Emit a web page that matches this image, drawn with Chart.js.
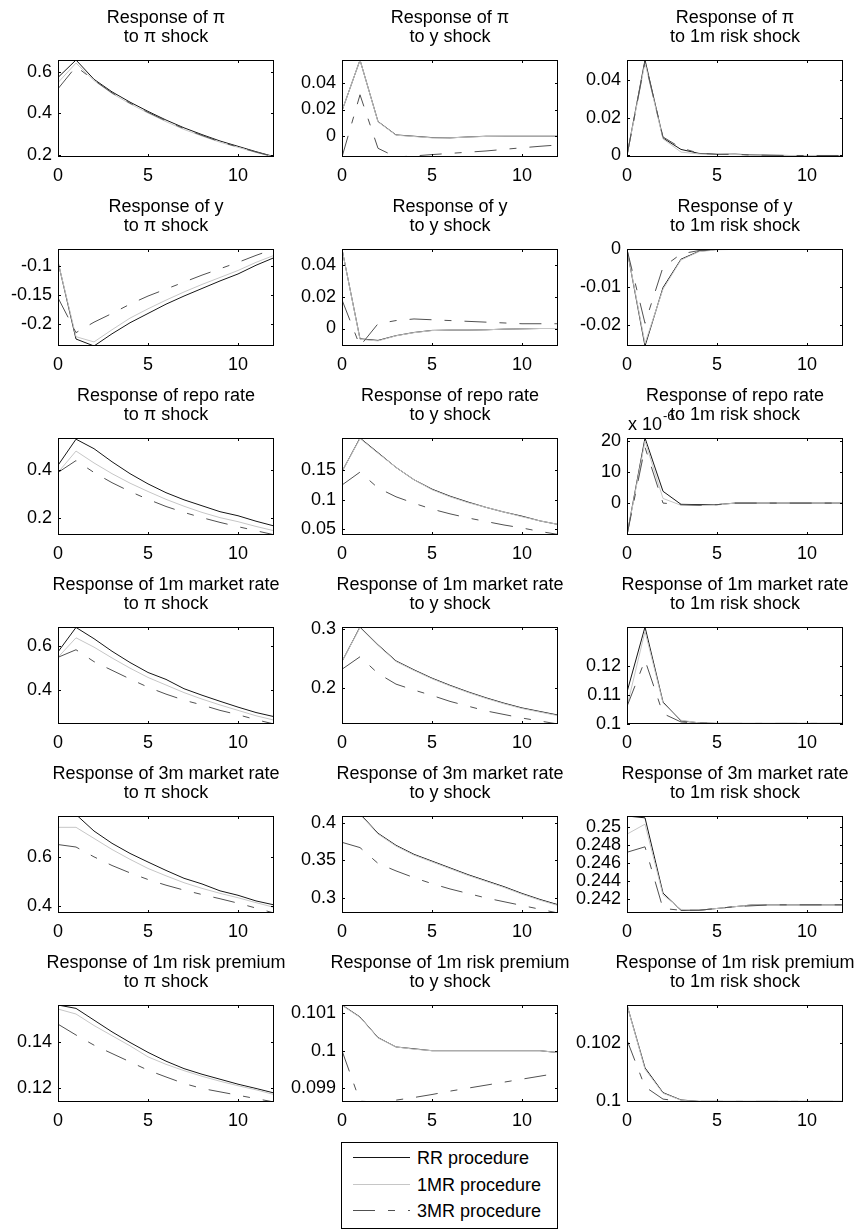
<!DOCTYPE html>
<html>
<head>
<meta charset="utf-8">
<script src="https://cdn.jsdelivr.net/npm/chart.js@4.4.0/dist/chart.umd.min.js"></script>
<style>
  html, body { margin: 0; padding: 0; background: #fff; overflow: hidden; }
  #figura { position: relative; width: 863px; height: 1229px; }
  #figura canvas { position: absolute; }
  #legenda { position: absolute; left: 341px; top: 1142px; }
</style>
</head>
<body>
<div id="figura"></div>
<script>
// horizonte das respostas (periodos)
const horizonte = [0, 1, 2, 3, 4, 5, 6, 7, 8, 9, 10, 11, 12];
const ticksX = [0, 5, 10];

const variaveis = ["π", "y", "repo rate", "1m market rate", "3m market rate", "1m risk premium"];
const choques = ["π shock", "y shock", "1m risk shock"];
const procedimentos = ["RR procedure", "1MR procedure", "3MR procedure"];

// ---- linha 1: resposta de pi
const piPi_RR  = [0.575, 0.66, 0.566, 0.505, 0.455, 0.41, 0.368, 0.33, 0.297, 0.266, 0.24, 0.214, 0.19];
const piPi_1MR = [0.55, 0.645, 0.56, 0.497, 0.447, 0.402, 0.36, 0.322, 0.29, 0.26, 0.235, 0.21, 0.188];
const piPi_3MR = [0.52, 0.628, 0.562, 0.5, 0.45, 0.405, 0.364, 0.326, 0.293, 0.262, 0.237, 0.212, 0.189];
const piPi_lim = [0.188, 0.66];
const piPi_ticks = [0.2, 0.4, 0.6];

const piY_RR  = [0.019, 0.057, 0.011, 0.001, 0, -0.001, -0.0012, -0.0005, 0, 0, 0, 0, 0];
const piY_1MR = [0.019, 0.057, 0.0108, 0.0008, -0.0002, -0.0012, -0.0012, -0.0006, -0.0001, 0, 0, 0, 0];
const piY_3MR = [-0.0155, 0.031, -0.009, -0.0155, -0.0147, -0.0137, -0.0128, -0.0119, -0.011, -0.0098, -0.0086, -0.0075, -0.0065];
const piY_lim = [-0.0155, 0.057];
const piY_ticks = [0, 0.02, 0.04];

const piR_RR  = [0, 0.0505, 0.0092, 0.0032, 0.0011, 0.0006, 0.0007, 0.0003, 0.0001, 0, 0, 0, 0];
const piR_1MR = [0, 0.049, 0.0088, 0.0018, 0.0008, 0.0005, 0.0005, 0.0002, 0.0001, 0, 0, 0, 0];
const piR_3MR = [0, 0.0495, 0.0098, 0.004, 0.0012, 0.0006, 0.0006, 0.0002, 0.0001, 0, 0, 0, 0];
const piR_lim = [-0.0008, 0.0505];
const piR_ticks = [0, 0.02, 0.04];

// ---- linha 2: resposta de y
const yPi_RR  = [-0.093, -0.226, -0.238, -0.217, -0.198, -0.182, -0.166, -0.152, -0.139, -0.126, -0.114, -0.099, -0.086];
const yPi_1MR = [-0.093, -0.222, -0.231, -0.21, -0.19, -0.174, -0.159, -0.145, -0.132, -0.12, -0.108, -0.094, -0.082];
const yPi_3MR = [-0.155, -0.215, -0.197, -0.182, -0.166, -0.152, -0.14, -0.128, -0.116, -0.105, -0.094, -0.082, -0.071];
const yPi_lim = [-0.238, -0.071];
const yPi_ticks = [-0.2, -0.15, -0.1];

const yY_RR  = [0.05, -0.0065, -0.0075, -0.0045, -0.0025, -0.0012, -0.001, -0.001, -0.0008, -0.0004, -0.0002, 0, 0];
const yY_1MR = [0.05, -0.0068, -0.0078, -0.0046, -0.0026, -0.0013, -0.001, -0.001, -0.0008, -0.0004, -0.0002, 0, 0];
const yY_3MR = [0.018, -0.011, 0.003, 0.005, 0.006, 0.0055, 0.005, 0.0045, 0.004, 0.0035, 0.003, 0.003, 0.003];
const yY_lim = [-0.011, 0.05];
const yY_ticks = [0, 0.02, 0.04];

const yR_RR  = [0, -0.0255, -0.0101, -0.0026, -0.0005, 0, 0, 0, 0, 0, 0, 0, 0];
const yR_1MR = [0, -0.0248, -0.0105, -0.0028, -0.0006, -0.0001, 0, 0, 0, 0, 0, 0, 0];
const yR_3MR = [0, -0.0195, -0.0047, -0.0012, -0.0003, 0, 0, 0, 0, 0, 0, 0, 0];
const yR_lim = [-0.0255, 0.0001];
const yR_ticks = [-0.02, -0.01, 0];

// ---- linha 3: resposta da repo rate
const repoPi_RR  = [0.42, 0.53, 0.49, 0.435, 0.385, 0.342, 0.305, 0.275, 0.25, 0.225, 0.208, 0.185, 0.165];
const repoPi_1MR = [0.39, 0.48, 0.43, 0.385, 0.345, 0.31, 0.277, 0.248, 0.222, 0.2, 0.183, 0.163, 0.145];
const repoPi_3MR = [0.39, 0.44, 0.39, 0.347, 0.31, 0.277, 0.247, 0.222, 0.2, 0.18, 0.162, 0.145, 0.128];
const repoPi_lim = [0.127, 0.535];
const repoPi_ticks = [0.2, 0.4];

const repoY_RR  = [0.148, 0.205, 0.18, 0.155, 0.134, 0.118, 0.106, 0.096, 0.087, 0.079, 0.072, 0.064, 0.058];
const repoY_1MR = [0.148, 0.204, 0.179, 0.155, 0.134, 0.117, 0.105, 0.095, 0.087, 0.079, 0.071, 0.064, 0.058];
const repoY_3MR = [0.125, 0.147, 0.12, 0.105, 0.094, 0.084, 0.076, 0.069, 0.063, 0.057, 0.052, 0.046, 0.041];
const repoY_lim = [0.04, 0.205];
const repoY_ticks = [0.05, 0.1, 0.15];

// valores em unidades de 10^-6
const repoR_RR  = [-10.3, 21, 3.8, -0.4, -0.5, -0.5, 0, 0, 0, 0, 0, 0, 0];
const repoR_1MR = [-10.3, 20, 1.5, -0.7, -0.8, -0.6, 0, 0, 0, 0, 0, 0, 0];
const repoR_3MR = [-10.3, 18, 0, -0.5, -0.7, -0.5, 0, 0, 0, 0, 0, 0, 0];
const repoR_lim = [-10.3, 21];
const repoR_ticks = [0, 10, 20];

// ---- linha 4: resposta da 1m market rate
const m1Pi_RR  = [0.575, 0.688, 0.636, 0.578, 0.526, 0.48, 0.448, 0.405, 0.375, 0.347, 0.32, 0.295, 0.276];
const m1Pi_1MR = [0.55, 0.64, 0.597, 0.547, 0.5, 0.457, 0.422, 0.387, 0.357, 0.33, 0.305, 0.28, 0.26];
const m1Pi_3MR = [0.55, 0.585, 0.53, 0.49, 0.45, 0.412, 0.38, 0.352, 0.33, 0.305, 0.285, 0.262, 0.242];
const m1Pi_lim = [0.242, 0.69];
const m1Pi_ticks = [0.4, 0.6];

const m1Y_RR  = [0.245, 0.303, 0.273, 0.246, 0.231, 0.217, 0.205, 0.194, 0.184, 0.175, 0.167, 0.161, 0.155];
const m1Y_1MR = [0.245, 0.302, 0.272, 0.245, 0.23, 0.216, 0.204, 0.193, 0.183, 0.174, 0.166, 0.16, 0.154];
const m1Y_3MR = [0.232, 0.253, 0.225, 0.207, 0.197, 0.188, 0.178, 0.17, 0.162, 0.156, 0.15, 0.145, 0.14];
const m1Y_lim = [0.14, 0.303];
const m1Y_ticks = [0.2, 0.3];

const m1R_RR  = [0.111, 0.1335, 0.1075, 0.101, 0.1003, 0.1001, 0.1001, 0.1001, 0.1001, 0.1001, 0.1001, 0.1001, 0.1001];
const m1R_1MR = [0.106, 0.132, 0.1072, 0.1012, 0.1003, 0.1001, 0.1001, 0.1001, 0.1001, 0.1001, 0.1001, 0.1001, 0.1001];
const m1R_3MR = [0.106, 0.122, 0.1035, 0.1006, 0.1002, 0.1001, 0.1001, 0.1001, 0.1001, 0.1001, 0.1001, 0.1001, 0.1001];
const m1R_lim = [0.0999, 0.1335];
const m1R_ticks = [0.1, 0.11, 0.12];

// ---- linha 5: resposta da 3m market rate
const m3Pi_RR  = [0.785, 0.772, 0.705, 0.655, 0.614, 0.579, 0.545, 0.513, 0.49, 0.462, 0.444, 0.421, 0.405];
const m3Pi_1MR = [0.72, 0.72, 0.675, 0.63, 0.59, 0.553, 0.523, 0.495, 0.472, 0.452, 0.434, 0.414, 0.395];
const m3Pi_3MR = [0.65, 0.64, 0.6, 0.565, 0.535, 0.508, 0.485, 0.465, 0.447, 0.43, 0.412, 0.392, 0.372];
const m3Pi_lim = [0.372, 0.766];
const m3Pi_ticks = [0.4, 0.6];

const m3Y_RR  = [0.42, 0.412, 0.386, 0.37, 0.358, 0.349, 0.34, 0.331, 0.323, 0.315, 0.306, 0.298, 0.291];
const m3Y_1MR = [0.419, 0.411, 0.385, 0.369, 0.357, 0.348, 0.339, 0.33, 0.322, 0.314, 0.305, 0.297, 0.29];
const m3Y_3MR = [0.374, 0.367, 0.346, 0.336, 0.327, 0.319, 0.312, 0.306, 0.3, 0.295, 0.29, 0.285, 0.28];
const m3Y_lim = [0.28, 0.409];
const m3Y_ticks = [0.3, 0.35, 0.4];

const m3R_RR  = [0.2512, 0.251, 0.2427, 0.2408, 0.2408, 0.241, 0.2412, 0.2414, 0.2414, 0.2414, 0.2414, 0.2414, 0.2414];
const m3R_1MR = [0.2492, 0.2503, 0.2425, 0.2409, 0.2408, 0.241, 0.2412, 0.2414, 0.2414, 0.2414, 0.2414, 0.2414, 0.2414];
const m3R_3MR = [0.2472, 0.2478, 0.241, 0.2408, 0.2408, 0.241, 0.2412, 0.2413, 0.2414, 0.2414, 0.2414, 0.2414, 0.2414];
const m3R_lim = [0.2405, 0.2512];
const m3R_ticks = [0.242, 0.244, 0.246, 0.248, 0.25];

// ---- linha 6: resposta do 1m risk premium
const rpPi_RR  = [0.1566, 0.1551, 0.1499, 0.1447, 0.14, 0.1356, 0.1317, 0.1284, 0.1259, 0.1237, 0.1215, 0.1196, 0.1176];
const rpPi_1MR = [0.1548, 0.1526, 0.1475, 0.143, 0.1385, 0.1336, 0.1303, 0.1275, 0.125, 0.1228, 0.1208, 0.119, 0.1169];
const rpPi_3MR = [0.1481, 0.1433, 0.1388, 0.1351, 0.1314, 0.1277, 0.1247, 0.1218, 0.1196, 0.1181, 0.1166, 0.1151, 0.1136];
const rpPi_lim = [0.1136, 0.1566];
const rpPi_ticks = [0.12, 0.14];

const rpY_RR  = [0.10122, 0.1009, 0.10035, 0.1001, 0.10005, 0.1, 0.1, 0.1, 0.1, 0.1, 0.1, 0.1, 0.09995];
const rpY_1MR = [0.10121, 0.10089, 0.10034, 0.1001, 0.10004, 0.1, 0.1, 0.1, 0.1, 0.1, 0.1, 0.1, 0.09995];
const rpY_3MR = [0.1, 0.09865, 0.09863, 0.09868, 0.09875, 0.09883, 0.09892, 0.099, 0.09908, 0.09916, 0.09924, 0.09932, 0.0994];
const rpY_lim = [0.09863, 0.10122];
const rpY_ticks = [0.099, 0.1, 0.101];

const rpR_RR  = [0.1033, 0.10115, 0.1003, 0.10005, 0.1, 0.1, 0.1, 0.1, 0.1, 0.1, 0.1, 0.1, 0.1];
const rpR_1MR = [0.1033, 0.1011, 0.10028, 0.10004, 0.1, 0.1, 0.1, 0.1, 0.1, 0.1, 0.1, 0.1, 0.1];
const rpR_3MR = [0.1021, 0.1005, 0.10008, 0.1, 0.1, 0.1, 0.1, 0.1, 0.1, 0.1, 0.1, 0.1, 0.1];
const rpR_lim = [0.09998, 0.1033];
const rpR_ticks = [0.1, 0.102];

// paineis na ordem da figura (linha a linha)
const paineis = [
  [piPi_RR, piPi_1MR, piPi_3MR, piPi_lim, piPi_ticks],
  [piY_RR, piY_1MR, piY_3MR, piY_lim, piY_ticks],
  [piR_RR, piR_1MR, piR_3MR, piR_lim, piR_ticks],
  [yPi_RR, yPi_1MR, yPi_3MR, yPi_lim, yPi_ticks],
  [yY_RR, yY_1MR, yY_3MR, yY_lim, yY_ticks],
  [yR_RR, yR_1MR, yR_3MR, yR_lim, yR_ticks],
  [repoPi_RR, repoPi_1MR, repoPi_3MR, repoPi_lim, repoPi_ticks],
  [repoY_RR, repoY_1MR, repoY_3MR, repoY_lim, repoY_ticks],
  [repoR_RR, repoR_1MR, repoR_3MR, repoR_lim, repoR_ticks],
  [m1Pi_RR, m1Pi_1MR, m1Pi_3MR, m1Pi_lim, m1Pi_ticks],
  [m1Y_RR, m1Y_1MR, m1Y_3MR, m1Y_lim, m1Y_ticks],
  [m1R_RR, m1R_1MR, m1R_3MR, m1R_lim, m1R_ticks],
  [m3Pi_RR, m3Pi_1MR, m3Pi_3MR, m3Pi_lim, m3Pi_ticks],
  [m3Y_RR, m3Y_1MR, m3Y_3MR, m3Y_lim, m3Y_ticks],
  [m3R_RR, m3R_1MR, m3R_3MR, m3R_lim, m3R_ticks],
  [rpPi_RR, rpPi_1MR, rpPi_3MR, rpPi_lim, rpPi_ticks],
  [rpY_RR, rpY_1MR, rpY_3MR, rpY_lim, rpY_ticks],
  [rpR_RR, rpR_1MR, rpR_3MR, rpR_lim, rpR_ticks],
];

const FONTE = "'Liberation Sans', Arial, Helvetica, sans-serif";
const TAM = 18;
const coresLinhas = ["#151515", "#c6c6c6", "#505050"];
const tracoDashDot = [22, 13, 7, 13];

// posicoes das caixas (px) e margens
const colEsq = [58, 342, 627];
const linhaTopo = [60, 249, 438, 627, 816, 1005];
const caixaW = 216, caixaH = 97;
const eixoYW = 58, tituloH = 60, eixoXH = 32;

Chart.defaults.font.family = FONTE;
Chart.defaults.color = "#000";

function pares(valores) {
  return horizonte.map((h, i) => ({ x: h, y: valores[i] }));
}

function rotulo(v) {
  return String(Number(v.toFixed(6)));
}

// caixa fechada com marcas internas, estilo matlab
const caixaPlugin = {
  id: "caixa",
  afterDatasetsDraw(chart) {
    const { ctx, chartArea: a, scales } = chart;
    ctx.save();
    ctx.strokeStyle = "#000";
    ctx.lineWidth = 1;
    ctx.strokeRect(a.left + 0.5, a.top + 0.5, a.width - 1, a.height - 1);
    ctx.beginPath();
    scales.x.ticks.forEach((t) => {
      const px = Math.round(scales.x.getPixelForValue(t.value)) + 0.5;
      ctx.moveTo(px, a.bottom); ctx.lineTo(px, a.bottom - 3);
      ctx.moveTo(px, a.top); ctx.lineTo(px, a.top + 3);
    });
    scales.y.ticks.forEach((t) => {
      const py = Math.round(scales.y.getPixelForValue(t.value)) + 0.5;
      ctx.moveTo(a.left, py); ctx.lineTo(a.left + 3, py);
      ctx.moveTo(a.right, py); ctx.lineTo(a.right - 3, py);
    });
    ctx.stroke();
    ctx.restore();
  },
};

// "x 10^-6" no canto do painel da repo rate
const expoentePlugin = {
  id: "expoente",
  afterDraw(chart, args, opts) {
    if (!opts || !opts.texto) return;
    const { ctx, chartArea: a } = chart;
    ctx.save();
    ctx.fillStyle = "#000";
    ctx.textBaseline = "alphabetic";
    ctx.font = TAM + "px " + FONTE;
    ctx.fillText("x 10", a.left + 1, a.top - 8);
    const w = ctx.measureText("x 10").width;
    ctx.font = "13px " + FONTE;
    ctx.fillText(opts.texto, a.left + 1 + w + 1, a.top - 18);
    ctx.restore();
  },
};

const figura = document.getElementById("figura");

paineis.forEach((p, k) => {
  const lin = Math.floor(k / 3);
  const col = k % 3;
  const canvas = document.createElement("canvas");
  canvas.width = eixoYW * 2 + caixaW;
  canvas.height = tituloH + caixaH + eixoXH;
  canvas.style.left = colEsq[col] - eixoYW + "px";
  canvas.style.top = linhaTopo[lin] - tituloH + "px";
  figura.appendChild(canvas);

  const [rr, m1, m3, lim, yticks] = p;

  new Chart(canvas, {
    type: "line",
    data: {
      datasets: [
        { label: procedimentos[0], data: pares(rr), borderColor: coresLinhas[0], borderWidth: 1, order: 2 },
        { label: procedimentos[1], data: pares(m1), borderColor: coresLinhas[1], borderWidth: 1, order: 1 },
        { label: procedimentos[2], data: pares(m3), borderColor: coresLinhas[2], borderWidth: 1, borderDash: tracoDashDot, order: 0 },
      ],
    },
    options: {
      responsive: false,
      animation: false,
      devicePixelRatio: 1,
      layout: { padding: 0 },
      elements: { point: { radius: 0 }, line: { tension: 0 } },
      plugins: {
        legend: { display: false },
        tooltip: { enabled: false },
        title: {
          display: true,
          text: ["Response of " + variaveis[lin], "to " + choques[col]],
          color: "#000",
          font: { size: TAM, weight: "normal", lineHeight: "19px" },
          padding: { top: 9, bottom: 13 },
        },
        expoente: k === 8 ? { texto: "-6" } : {},
      },
      scales: {
        x: {
          type: "linear",
          min: 0,
          max: 12,
          grid: { display: false, drawTicks: false },
          border: { display: false },
          ticks: { color: "#000", padding: 8, maxRotation: 0, autoSkip: false, font: { size: TAM } },
          afterBuildTicks: (eixo) => { eixo.ticks = ticksX.map((v) => ({ value: v })); },
          afterFit: (eixo) => { eixo.height = eixoXH; },
        },
        y: {
          type: "linear",
          position: "left",
          min: lim[0],
          max: lim[1],
          grid: { display: false, drawTicks: false },
          border: { display: false },
          ticks: { color: "#000", padding: 6, autoSkip: false, font: { size: TAM }, callback: (v) => rotulo(v) },
          afterBuildTicks: (eixo) => { eixo.ticks = yticks.map((v) => ({ value: v })); },
          afterFit: (eixo) => { eixo.width = eixoYW; },
        },
        yDir: {
          type: "linear",
          position: "right",
          grid: { display: false, drawTicks: false },
          border: { display: false },
          ticks: { display: false },
          afterFit: (eixo) => { eixo.width = eixoYW; },
        },
      },
    },
    plugins: [caixaPlugin, expoentePlugin],
  });
});

// legenda
const NS = "http://www.w3.org/2000/svg";
const legenda = document.createElementNS(NS, "svg");
legenda.setAttribute("id", "legenda");
legenda.setAttribute("width", "217");
legenda.setAttribute("height", "87");
const moldura = document.createElementNS(NS, "rect");
moldura.setAttribute("x", "0.5"); moldura.setAttribute("y", "0.5");
moldura.setAttribute("width", "216"); moldura.setAttribute("height", "86");
moldura.setAttribute("fill", "#fff"); moldura.setAttribute("stroke", "#000");
legenda.appendChild(moldura);
const yLeg = [15.5, 42.5, 68.5];
procedimentos.forEach((nome, i) => {
  const l = document.createElementNS(NS, "line");
  l.setAttribute("x1", "12"); l.setAttribute("x2", "69");
  l.setAttribute("y1", yLeg[i]); l.setAttribute("y2", yLeg[i]);
  l.setAttribute("stroke", coresLinhas[i]);
  l.setAttribute("stroke-width", "1");
  if (i === 2) l.setAttribute("stroke-dasharray", tracoDashDot.join(" "));
  legenda.appendChild(l);
  const t = document.createElementNS(NS, "text");
  t.setAttribute("x", "76");
  t.setAttribute("y", yLeg[i] + 6);
  t.setAttribute("font-family", FONTE);
  t.setAttribute("font-size", TAM);
  t.textContent = nome;
  legenda.appendChild(t);
});
figura.appendChild(legenda);
</script>
</body>
</html>
